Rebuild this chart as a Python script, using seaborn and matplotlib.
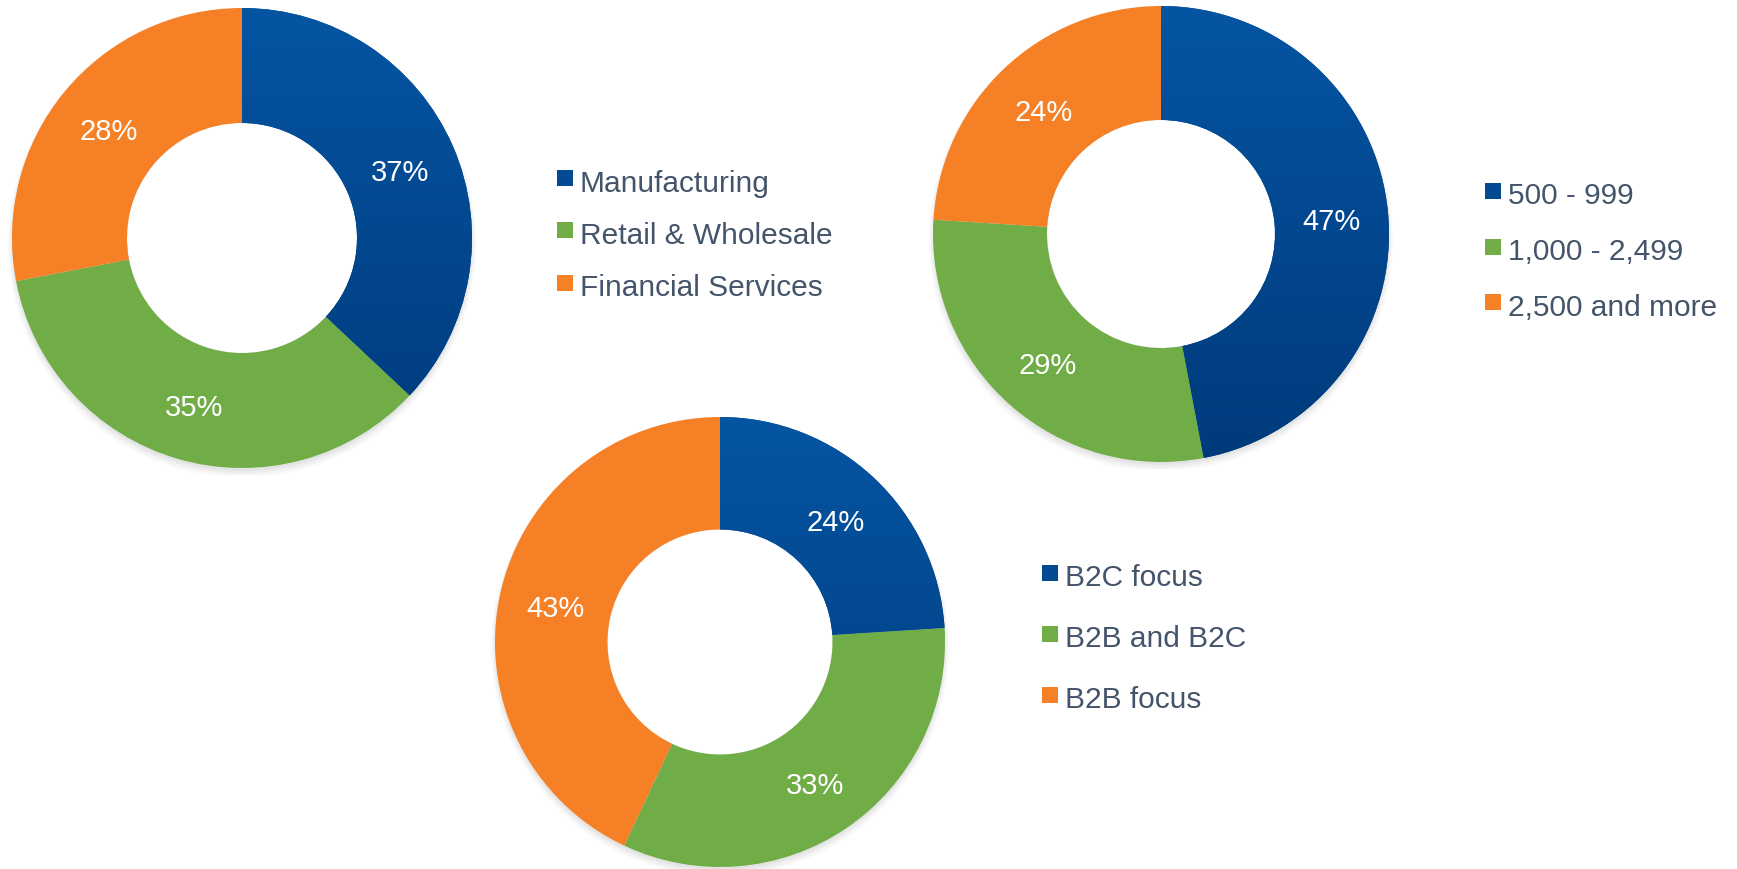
import numpy as np
import matplotlib
matplotlib.use("Agg")
import matplotlib.pyplot as plt
import seaborn as sns
from matplotlib.patches import Rectangle
from matplotlib.colors import LinearSegmentedColormap

sns.set_theme(style="white")
plt.rcParams['font.family'] = ['Liberation Sans', 'DejaVu Sans']

# ---- data ----
industry_labels = ["Manufacturing", "Retail & Wholesale", "Financial Services"]
industry_values = [37, 35, 28]
size_labels = ["500 - 999", "1,000 - 2,499", "2,500 and more"]
size_values = [47, 29, 24]
focus_labels = ["B2C focus", "B2B and B2C", "B2B focus"]
focus_values = [24, 33, 43]

# ---- styles ----
BLUE_TOP, BLUE_BOT = "#0555A3", "#003A7B"
BLUE_MID = "#034A93"
GREEN = "#70AD47"
ORANGE = "#F58025"
palette = sns.color_palette([BLUE_MID, GREEN, ORANGE])
TEXT = "#44546A"

W, H = 1737, 870
fig = plt.figure(figsize=(W / 100, H / 100), dpi=100)
fig.patch.set_facecolor("white")
blue_cmap = LinearSegmentedColormap.from_list("b", [BLUE_BOT, BLUE_TOP])


def donut(cx, cy, r, values):
    ax = fig.add_axes([(cx - r) / W, (H - cy - r) / H, 2 * r / W, 2 * r / H])
    # soft shadow
    for k, a in enumerate([0.035, 0.03, 0.025, 0.02]):
        ax.add_patch(plt.Circle((0, -0.012 - 0.004 * k), 1.0 + 0.006 * k, color="black",
                                alpha=a, lw=0, zorder=0))
    wedges, _ = ax.pie(values, colors=palette, startangle=90, counterclock=False,
                       radius=1, wedgeprops=dict(width=0.5, linewidth=0))
    for w in wedges:
        w.set_zorder(2)
    ax.add_patch(plt.Circle((0, 0), 0.5, color="white", lw=0, zorder=1))
    grad = np.linspace(0, 1, 256).reshape(-1, 1)
    im = ax.imshow(grad, cmap=blue_cmap, extent=[-1, 1, -1, 1], origin="lower",
                   aspect="auto", zorder=3, interpolation="bilinear")
    im.set_clip_path(wedges[0])
    for v, w in zip(values, wedges):
        ang = np.deg2rad((w.theta1 + w.theta2) / 2)
        ax.text(0.75 * np.cos(ang), 0.75 * np.sin(ang), f"{v}%", color="white",
                fontsize=21, ha="center", va="center_baseline", zorder=5)
    ax.set_xlim(-1.03, 1.03)
    ax.set_ylim(-1.03, 1.03)
    ax.set_aspect("equal")
    ax.axis("off")


def legend(x_sq, centers, labels):
    cols = [BLUE_MID, GREEN, ORANGE]
    for c, lab, col in zip(centers, labels, cols):
        fig.add_artist(Rectangle((x_sq / W, (H - c - 8) / H), 16 / W, 16 / H,
                                 transform=fig.transFigure, color=col, lw=0))
        fig.text((x_sq + 23) / W, (H - c - 12.5) / H, lab, color=TEXT,
                 fontsize=21.5, ha="left", va="baseline")


r1, r2, r3 = 230 * 1.03, 228 * 1.03, 225 * 1.03
donut(242, 239, r1, industry_values)
donut(1161, 235, r2, size_values)
donut(720, 643, r3, focus_values)

legend(557, [179, 231, 284], industry_labels)
legend(1485, [192, 248, 303], size_labels)
legend(1042, [574, 635, 696], focus_labels)

fig.savefig("out.png", dpi=100, facecolor="white")
